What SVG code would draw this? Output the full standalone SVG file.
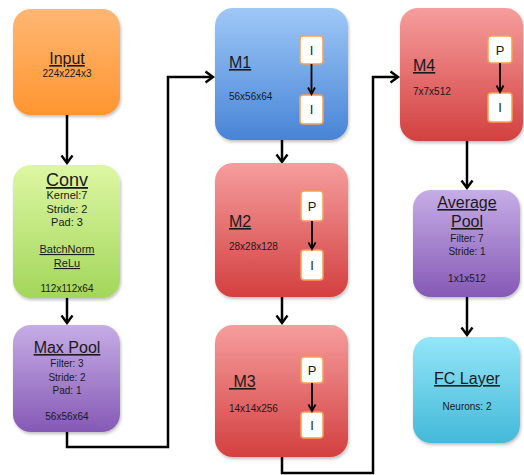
<svg xmlns="http://www.w3.org/2000/svg" width="524" height="475" viewBox="0 0 524 475">
<defs>
<linearGradient id="gOrange" x1="0" y1="0" x2="0" y2="1"><stop offset="0" stop-color="#FFB774"/><stop offset="1" stop-color="#FF9530"/></linearGradient>
<linearGradient id="gGreen" x1="0" y1="0" x2="0" y2="1"><stop offset="0" stop-color="#DDF7A3"/><stop offset="1" stop-color="#A3D65A"/></linearGradient>
<linearGradient id="gPurple" x1="0" y1="0" x2="0" y2="1"><stop offset="0" stop-color="#C6ADE6"/><stop offset="1" stop-color="#8559B5"/></linearGradient>
<linearGradient id="gBlue" x1="0" y1="0" x2="0" y2="1"><stop offset="0" stop-color="#9EC8F7"/><stop offset="1" stop-color="#4884D6"/></linearGradient>
<linearGradient id="gRed" x1="0" y1="0" x2="0" y2="1"><stop offset="0" stop-color="#F69D9D"/><stop offset="1" stop-color="#D34040"/></linearGradient>
<linearGradient id="gCyan" x1="0" y1="0" x2="0" y2="1"><stop offset="0" stop-color="#94E6F8"/><stop offset="1" stop-color="#43B9D8"/></linearGradient>
<filter id="sh" x="-10%" y="-10%" width="125%" height="125%"><feDropShadow dx="1" dy="2" stdDeviation="1.5" flood-color="#000" flood-opacity="0.25"/></filter>
<marker id="ah" viewBox="0 0 10 12" refX="9" refY="6" markerWidth="10" markerHeight="12" orient="auto" markerUnits="userSpaceOnUse" overflow="visible">
<path d="M1.5,0.5 L9,6 L1.5,11.5" fill="none" stroke="#000" stroke-width="2.4"/>
</marker>
<marker id="ahs" viewBox="0 0 8 8" refX="7.5" refY="4" markerWidth="8" markerHeight="8" orient="auto" markerUnits="userSpaceOnUse" overflow="visible">
<path d="M1,0.5 L7.5,4 L1,7.5" fill="none" stroke="#000" stroke-width="1.8"/>
</marker>
</defs>
<style>
text{font-family:"Liberation Sans",Arial,sans-serif;fill:#1a1a1a}
.t{font-size:16px;text-decoration:underline}
.s{font-size:10px}
.c{text-anchor:middle}
.u{text-decoration:underline}
.box{filter:url(#sh)}
.mini{fill:#fff;stroke:#F7A050;stroke-width:1.5}
.ml{font-size:13px;text-anchor:middle}
.conn{fill:none;stroke:#000;stroke-width:2.5;marker-end:url(#ah)}
.conn2{fill:none;stroke:#000;stroke-width:1.8;marker-end:url(#ahs)}
</style>

<g id="connectors">
<path class="conn" d="M67,115 V163"/>
<path class="conn" d="M67,298 V323"/>
<path class="conn" d="M67,432 V447 H168 V77 H213"/>
<path class="conn" d="M282,140 V162"/>
<path class="conn" d="M282,297 V323"/>
<path class="conn" d="M282,457 V473 H373 V77 H398"/>
<path class="conn" d="M467,141 V188"/>
<path class="conn" d="M467,297 V335"/>
</g>

<g id="input">
<rect class="box" x="13" y="9" width="107" height="106" rx="18" fill="url(#gOrange)"/>
<text class="t c" x="67" y="64">Input</text>
<text class="s c" x="67" y="77">224x224x3</text>
</g>

<g id="conv">
<rect class="box" x="13" y="165" width="107" height="133" rx="18" fill="url(#gGreen)"/>
<text class="t c" x="67" y="186" style="font-size:18px">Conv</text>
<text class="c" x="67" y="199" style="font-size:11px">Kernel:7</text>
<text class="c" x="67" y="213" style="font-size:11px">Stride: 2</text>
<text class="c" x="67" y="226" style="font-size:11px">Pad: 3</text>
<text class="c u" x="67" y="253" style="font-size:11px">BatchNorm</text>
<text class="c u" x="67" y="267" style="font-size:11px">ReLu</text>
<text class="s c" x="67" y="292">112x112x64</text>
</g>

<g id="maxpool">
<rect class="box" x="13" y="325" width="107" height="107" rx="18" fill="url(#gPurple)"/>
<text class="t c" x="67" y="353">Max Pool</text>
<text class="s c" x="67" y="367">Filter: 3</text>
<text class="s c" x="67" y="381">Stride: 2</text>
<text class="s c" x="67" y="394">Pad: 1</text>
<text class="s c" x="67" y="420">56x56x64</text>
</g>

<g id="m1">
<rect class="box" x="215" y="8" width="133" height="132" rx="18" fill="url(#gBlue)"/>
<text class="t" x="229" y="68">M1</text>
<text class="s" x="229" y="100">56x56x64</text>
<rect class="mini" x="300" y="36" width="23" height="28" rx="3"/>
<text class="ml" x="311.5" y="55">I</text>
<rect class="mini" x="300" y="95" width="23" height="29" rx="3"/>
<text class="ml" x="311.5" y="114">I</text>
<path class="conn2" d="M311.5,64 V94"/>
</g>

<g id="m2">
<rect class="box" x="215" y="163" width="133" height="134" rx="18" fill="url(#gRed)"/>
<text class="t" x="229" y="227">M2</text>
<text class="s" x="229" y="250">28x28x128</text>
<rect class="mini" x="301" y="191" width="22" height="30" rx="3"/>
<text class="ml" x="312" y="211">P</text>
<rect class="mini" x="301" y="250" width="22" height="30" rx="3"/>
<text class="ml" x="312" y="270">I</text>
<path class="conn2" d="M312,221 V249"/>
</g>

<g id="m3">
<rect class="box" x="215" y="325" width="133" height="132" rx="18" fill="url(#gRed)"/>
<text class="t" x="229" y="387"><tspan xml:space="preserve"> M3</tspan></text>
<text class="s" x="229" y="412">14x14x256</text>
<rect class="mini" x="301" y="357" width="22" height="26" rx="3"/>
<text class="ml" x="312" y="375">P</text>
<rect class="mini" x="301" y="412" width="22" height="26" rx="3"/>
<text class="ml" x="312" y="430">I</text>
<path class="conn2" d="M312,383 V411"/>
</g>

<g id="m4">
<rect class="box" x="400" y="8" width="123" height="133" rx="18" fill="url(#gRed)"/>
<text class="t" x="413" y="71">M4</text>
<text class="s" x="413" y="95">7x7x512</text>
<rect class="mini" x="488" y="36" width="24" height="27" rx="3"/>
<text class="ml" x="500" y="55">P</text>
<rect class="mini" x="488" y="93" width="24" height="29" rx="3"/>
<text class="ml" x="500" y="112">I</text>
<path class="conn2" d="M500,63 V92"/>
</g>

<g id="avgpool">
<rect class="box" x="413" y="190" width="107" height="107" rx="18" fill="url(#gPurple)"/>
<text class="t c" x="467" y="208">Average</text>
<text class="t c" x="467" y="227">Pool</text>
<text class="s c" x="467" y="242">Filter: 7</text>
<text class="s c" x="467" y="255">Stride: 1</text>
<text class="s c" x="467" y="282">1x1x512</text>
</g>

<g id="fc">
<rect class="box" x="413" y="337" width="107" height="106" rx="18" fill="url(#gCyan)"/>
<text class="t c" x="467" y="384">FC Layer</text>
<text class="s c" x="467" y="410">Neurons: 2</text>
</g>
</svg>
